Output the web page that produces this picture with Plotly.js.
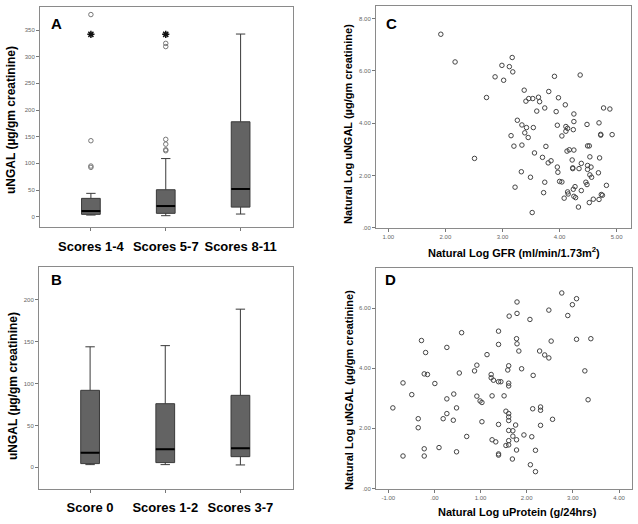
<!DOCTYPE html>
<html>
<head>
<meta charset="utf-8">
<script src="https://cdn.plot.ly/plotly-3.0.1.min.js"></script>
<style>html,body{margin:0;padding:0;background:#fff}#chart{width:638px;height:524px}</style>
</head>
<body>
<div id="chart"></div>
<script>
// ---------- Panel A data ----------
const A_categories = ["Scores 1-4", "Scores 5-7", "Scores 8-11"];
const A_q1 = [4.4, 6.3, 18];
const A_median = [10.6, 20, 52];
const A_q3 = [34.4, 50.6, 178];
const A_lower = [3.1, 1.9, 5];
const A_upper = [43.8, 109, 342.5];
const A_outCat = [0, 0, 0, 0, 1, 1, 1, 1, 1, 1];
const A_outVal = [95, 92.5, 142.5, 379, 123.7, 125.6, 136, 145, 319, 325];
const A_starCat = [0, 1];
const A_starVal = [342, 342];
const A_yticks = [0, 50, 100, 150, 200, 250, 300, 350];

// ---------- Panel B data ----------
const B_categories = ["Score 0", "Scores 1-2", "Scores 3-7"];
const B_q1 = [4.4, 5.6, 12.7];
const B_median = [17.5, 21.5, 22.7];
const B_q3 = [92, 76, 86];
const B_lower = [3.2, 3.2, 2.8];
const B_upper = [144, 145.4, 189];
const B_yticks = [0, 50, 100, 150, 200];

// ---------- Panel C data (ln GFR vs ln uNGAL) ----------
const C_x = [1.92,2.17,2.72,2.51,2.99,3.17,3.12,3.18,2.87,3.02,3.91,4.36,3.38,3.81,3.46,3.53,3.63,3.41,3.65,3.98,
  4.10,3.60,3.74,3.94,4.25,4.77,4.88,3.26,3.34,3.42,3.54,3.96,4.25,4.11,4.14,4.24,4.48,4.69,3.39,3.45,
  3.15,4.04,4.11,4.72,4.72,4.92,3.20,3.34,3.76,3.56,3.70,4.13,4.17,4.25,4.49,4.52,4.53,4.70,3.80,3.85,
  3.96,3.97,4.22,4.38,4.23,4.23,4.34,4.49,4.49,4.55,4.53,4.56,4.68,3.33,3.49,3.74,4.00,4.04,4.46,4.48,
  4.82,3.22,4.27,4.24,4.14,4.15,4.38,3.72,4.08,4.25,4.28,4.59,4.52,4.69,4.73,4.75,4.33,3.52];
const C_y = [7.40,6.34,4.98,2.65,6.21,6.51,6.16,5.96,5.77,5.64,5.79,5.84,5.26,5.21,4.94,4.94,4.99,4.84,4.82,4.97,
  4.70,4.46,4.58,4.44,4.35,4.58,4.54,4.11,3.93,3.83,3.83,3.92,4.06,3.87,3.80,3.75,3.95,4.01,3.63,3.45,
  3.52,3.51,3.69,3.57,3.54,3.56,3.12,3.16,3.11,2.86,2.69,2.93,2.98,2.97,3.13,3.13,2.71,2.67,2.48,2.56,
  2.32,2.12,2.59,2.46,2.29,2.26,2.26,2.38,2.23,2.32,2.02,1.93,2.10,2.14,1.93,1.74,1.77,1.75,1.74,1.65,
  1.62,1.55,1.57,1.47,1.37,1.29,1.42,1.34,1.13,1.20,1.15,1.09,0.96,1.08,1.27,1.24,0.79,0.58];
const C_xticks = [1, 2, 3, 4, 5];
const C_xlabels = ["1.00", "2.00", "3.00", "4.00", "5.00"];
const C_yticks = [0, 2, 4, 6, 8];
const C_ylabels = [".00", "2.00", "4.00", "6.00", "8.00"];

// ---------- Panel D data (ln uProtein vs ln uNGAL) ----------
const D_x = [-0.90,-0.68,-0.68,-0.49,-0.35,-0.35,-0.28,-0.19,-0.22,-0.15,-0.22,-0.22,0.01,0.10,0.19,0.27,0.27,0.27,0.41,0.42,
  0.48,0.48,0.54,0.59,0.70,0.87,0.92,0.92,0.99,1.03,1.03,1.14,1.23,1.23,1.28,1.25,1.25,1.33,1.39,1.39,
  1.39,1.44,1.39,1.39,1.39,1.51,1.55,1.61,1.59,1.61,1.61,1.61,1.61,1.61,1.61,1.61,1.61,1.55,1.62,1.70,
  1.70,1.69,1.76,1.78,1.78,1.79,1.79,1.78,1.79,1.83,1.89,1.94,2.07,2.08,2.11,2.14,2.13,2.19,2.19,2.28,
  2.30,2.30,2.30,2.39,2.48,2.48,2.53,2.56,2.76,2.89,2.99,3.08,3.08,3.26,3.33,3.39];
const D_y = [2.68,3.51,1.08,3.12,2.32,2.02,4.92,4.52,3.81,3.79,1.32,1.08,3.49,1.36,2.32,4.69,2.98,2.49,2.27,3.14,
  2.68,1.22,3.84,5.18,1.73,3.91,4.10,3.07,2.91,2.86,2.22,4.45,3.79,3.68,3.60,3.08,1.62,1.55,5.23,4.79,
  3.55,3.55,2.13,1.15,1.11,3.08,2.57,4.08,3.94,3.50,3.41,2.49,2.38,2.26,1.93,1.59,1.45,1.43,5.73,1.92,
  1.74,0.98,2.11,1.62,1.28,6.20,5.82,4.98,4.81,4.57,3.98,1.78,5.62,0.79,1.72,3.76,2.65,1.27,0.56,4.57,
  2.71,2.60,2.10,4.44,4.34,5.93,4.90,2.30,6.50,5.75,6.11,6.31,4.96,3.91,2.95,4.98];
const D_xticks = [-1, 0, 1, 2, 3, 4];
const D_xlabels = ["-1.00", ".00", "1.00", "2.00", "3.00", "4.00"];
const D_yticks = [0, 2, 4, 6];
const D_ylabels = [".00", "2.00", "4.00", "6.00"];

// ---------- helpers ----------
const W = 638, H = 524;
const px = v => v / W;
const py = v => 1 - v / H;
const BOXW = 0.25;

function boxTrace(q1, med, q3, lo, hi, xa, ya) {
  return {
    type: 'box', x: q1.map((_, i) => i), q1: q1, median: med, q3: q3,
    lowerfence: lo, upperfence: hi, boxpoints: false, width: BOXW,
    whiskerwidth: 0.5, fillcolor: '#636363',
    line: {color: '#3a3a3a', width: 1}, xaxis: xa, yaxis: ya,
    hoverinfo: 'skip', showlegend: false
  };
}
function medianTrace(med, xa, ya) {
  const xs = [], ys = [];
  med.forEach((m, i) => { xs.push(i - BOXW / 2, i + BOXW / 2, null); ys.push(m, m, null); });
  return {type: 'scatter', mode: 'lines', x: xs, y: ys, line: {color: '#000', width: 2},
    xaxis: xa, yaxis: ya, showlegend: false, hoverinfo: 'skip'};
}
function pointsTrace(x, y, xa, ya, sym, size, color, lw) {
  return {type: 'scatter', mode: 'markers', x: x, y: y, xaxis: xa, yaxis: ya,
    marker: {symbol: sym, size: size, color: color, line: {color: color, width: lw}},
    showlegend: false, hoverinfo: 'skip'};
}

const traces = [
  boxTrace(A_q1, A_median, A_q3, A_lower, A_upper, 'x', 'y'),
  medianTrace(A_median, 'x', 'y'),
  pointsTrace(A_outCat, A_outVal, 'x', 'y', 'circle-open', 4.5, '#777', 1),
  pointsTrace(A_starCat, A_starVal, 'x', 'y', 'asterisk-open', 6, '#111', 1.5),
  boxTrace(B_q1, B_median, B_q3, B_lower, B_upper, 'x2', 'y2'),
  medianTrace(B_median, 'x2', 'y2'),
  pointsTrace(C_x, C_y, 'x3', 'y3', 'circle-open', 4.5, '#444', 1),
  pointsTrace(D_x, D_y, 'x4', 'y4', 'circle-open', 4.5, '#444', 1)
];

const frame = {showline: true, mirror: true, linecolor: '#8a8a8a', linewidth: 1,
  showgrid: false, zeroline: false, ticks: 'outside', ticklen: 3, tickcolor: '#777',
  fixedrange: true};
const tinyFont = {family: 'Liberation Sans, Arial, sans-serif', size: 6, color: '#666'};
const catFont = {family: 'Liberation Sans, Arial, sans-serif', size: 13, color: '#000', weight: 'bold'};

const layout = {
  width: W, height: H, margin: {l: 0, r: 0, t: 0, b: 0},
  paper_bgcolor: '#fff', plot_bgcolor: '#fff', showlegend: false,
  font: {family: 'Liberation Sans, Arial, sans-serif'},
  xaxis: Object.assign({}, frame, {domain: [px(40), px(293)], range: [-0.68, 2.70],
    tickvals: [0, 1, 2], ticktext: A_categories, tickfont: catFont, ticklabelstandoff: 4, anchor: 'y'}),
  yaxis: Object.assign({}, frame, {domain: [py(227), py(7)], range: [-19.3, 393.2],
    tickvals: A_yticks, tickfont: tinyFont, anchor: 'x'}),
  xaxis2: Object.assign({}, frame, {domain: [px(39), px(293)], range: [-0.68, 2.70],
    tickvals: [0, 1, 2], ticktext: B_categories, tickfont: catFont, ticklabelstandoff: 4, anchor: 'y2'}),
  yaxis2: Object.assign({}, frame, {domain: [py(488.7), py(267)], range: [-25.6, 239.4],
    tickvals: B_yticks, tickfont: tinyFont, anchor: 'x2'}),
  xaxis3: Object.assign({}, frame, {domain: [px(376), px(630.7)], range: [0.785, 5.245],
    tickvals: C_xticks, ticktext: C_xlabels, tickfont: tinyFont, anchor: 'y3'}),
  yaxis3: Object.assign({}, frame, {domain: [py(227.7), py(6)], range: [0, 8.48],
    tickvals: C_yticks, ticktext: C_ylabels, tickfont: tinyFont, anchor: 'x3'}),
  xaxis4: Object.assign({}, frame, {domain: [px(376), px(631.7)], range: [-1.265, 4.275],
    tickvals: D_xticks, ticktext: D_xlabels, tickfont: tinyFont, anchor: 'y4'}),
  yaxis4: Object.assign({}, frame, {domain: [py(488.5), py(267.7)], range: [0, 7.34],
    tickvals: D_yticks, ticktext: D_ylabels, tickfont: tinyFont, anchor: 'x4'}),
  annotations: []
};

function ann(text, x, y, size, angle) {
  layout.annotations.push({text: text, x: px(x), y: py(y), xref: 'paper', yref: 'paper',
    xanchor: 'center', yanchor: 'middle', showarrow: false, textangle: angle || 0,
    font: {family: 'Liberation Sans, Arial, sans-serif', size: size, color: '#000', weight: 'bold'}});
}
ann('A', 57, 24, 15);
ann('B', 57, 279, 15);
ann('C', 391, 24, 15);
ann('D', 390, 279, 15);
ann('uNGAL (µg/gm creatinine)', 11, 120, 12, -90);
ann('uNGAL (µg/gm creatinine)', 13, 386, 12, -90);
ann('Natural Log uNGAL (µg/gm creatinine)', 348, 124, 11, -90);
ann('Natural Log uNGAL (µg/gm creatinine)', 349, 390, 11, -90);
ann('Natural Log GFR (ml/min/1.73m<sup>2</sup>)', 514, 252, 11, 0);
ann('Natural Log uProtein (g/24hrs)', 517, 512, 11, 0);

Plotly.newPlot('chart', traces, layout, {staticPlot: true, displayModeBar: false});
</script>
</body>
</html>
